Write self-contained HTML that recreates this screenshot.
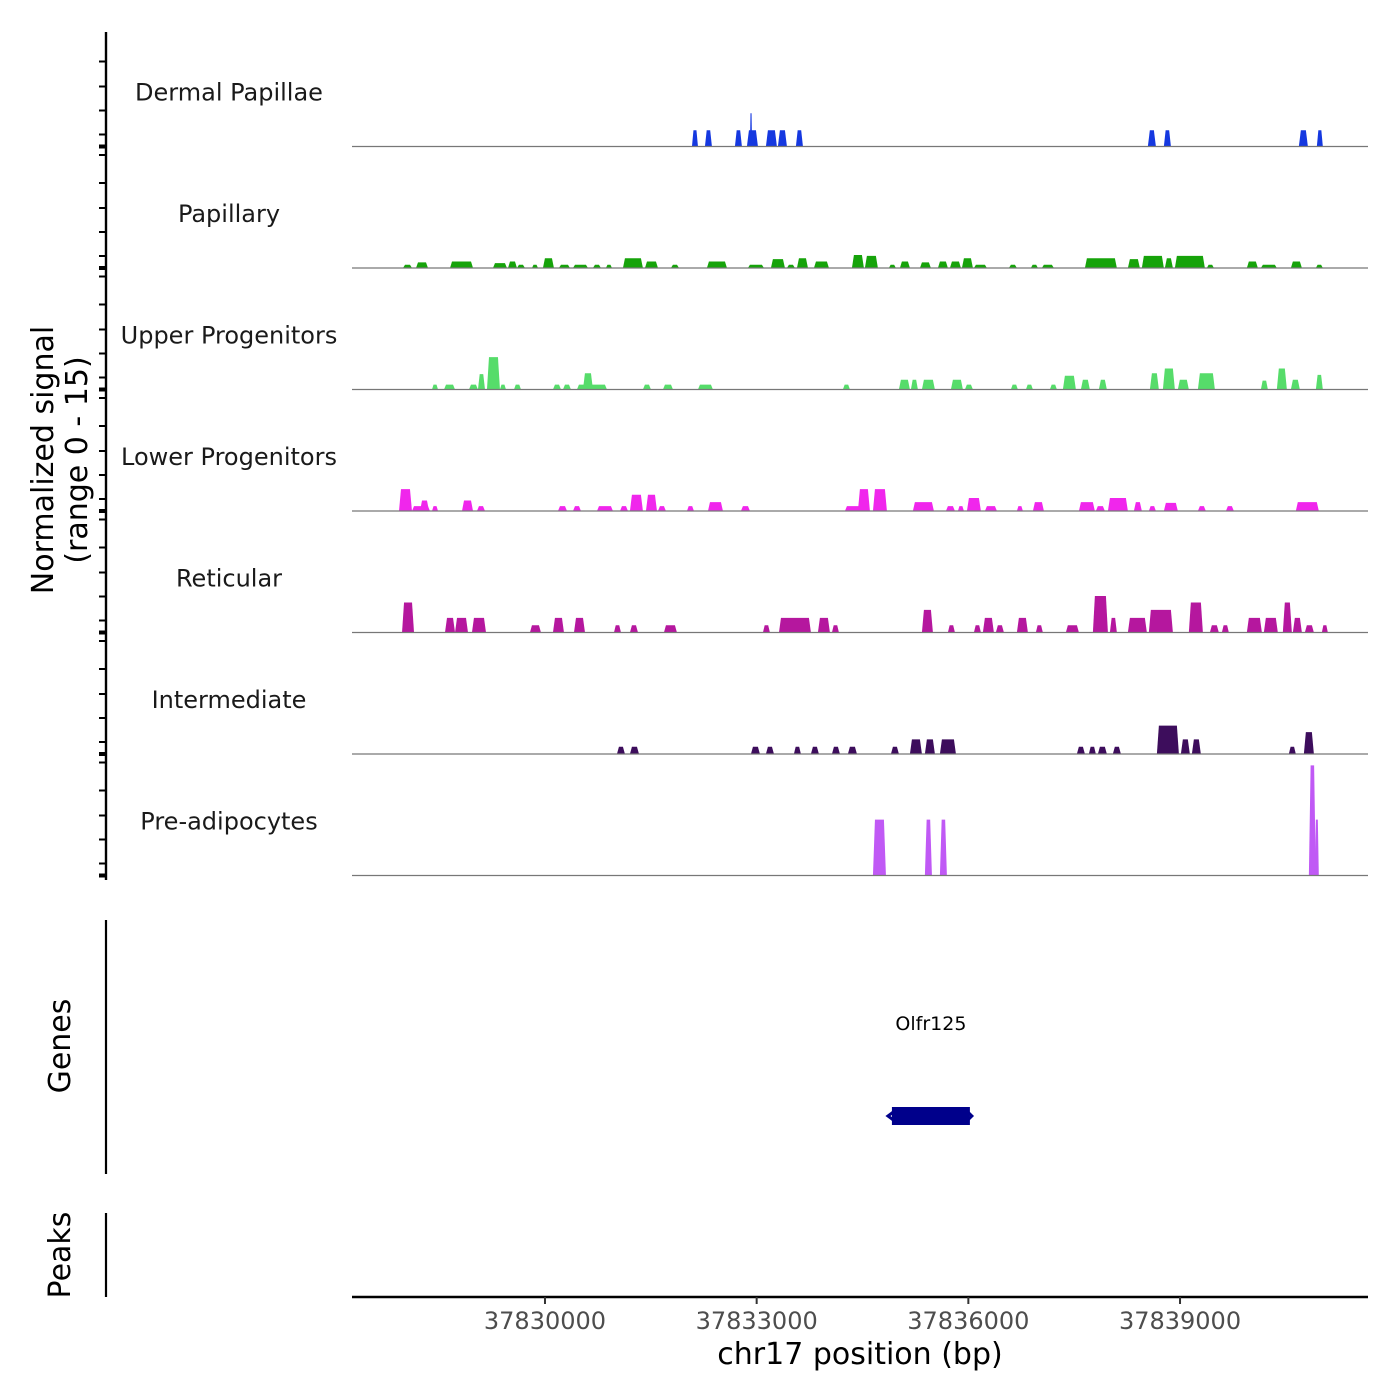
<!DOCTYPE html>
<html><head><meta charset="utf-8"><style>
html,body{margin:0;padding:0;background:#fff;}
svg{display:block;font-family:"DejaVu Sans","Liberation Sans",sans-serif;}
</style></head><body>
<svg id="chart" width="1400" height="1400" viewBox="0 0 1400 1400" xmlns="http://www.w3.org/2000/svg">
<g id="tracks"></g>
<g id="left-axis"></g>
<text x="0" y="0" transform="translate(53,460) rotate(-90)" text-anchor="middle" font-size="30" fill="#000"><tspan x="0" dy="0">Normalized signal</tspan><tspan x="0" dy="34">(range 0 - 15)</tspan></text>
<line x1="106" y1="920" x2="106" y2="1174" stroke="#000" stroke-width="2.2"/>
<text transform="translate(70,1046) rotate(-90)" text-anchor="middle" font-size="30" fill="#000">Genes</text>
<g id="genes"></g>
<line x1="106" y1="1213" x2="106" y2="1297" stroke="#000" stroke-width="2.2"/>
<text transform="translate(70,1255) rotate(-90)" text-anchor="middle" font-size="30" fill="#000">Peaks</text>
<g id="xaxis"></g>
<text x="860" y="1364" text-anchor="middle" font-size="30" fill="#000">chr17 position (bp)</text>
</svg>
<script>
const regionStart = 37827265;
const regionEnd = 37841664;
const trackNames = ["Dermal Papillae","Papillary","Upper Progenitors","Lower Progenitors","Reticular","Intermediate","Pre-adipocytes"];
const trackColors = ["#1538e0","#16a30a","#56dc6a","#f026ec","#b5179e","#3d0d5c","#c059f5"];
const xTicks = [37830000,37833000,37836000,37839000];
const xTickLabels = ["37830000","37833000","37836000","37839000"];
const signalMax = 15;
const dermalPapillae = [[37832083,37832168,2.0],[37832267,37832366,2.0],[37832692,37832791,2.0],[37832862,37833018,2.0],[37832905,37832935,4.1],[37833131,37833287,2.0],[37833301,37833429,2.0],[37833556,37833656,2.0],[37838544,37838658,2.0],[37838771,37838871,2.0],[37840684,37840812,2.0],[37840939,37841024,2.0]];
const papillary = [[37827988,37828115,0.4],[37828172,37828342,0.7],[37828654,37828980,0.8],[37829263,37829461,0.6],[37829476,37829603,0.8],[37829603,37829716,0.4],[37829816,37829901,0.4],[37829971,37830127,1.2],[37830198,37830354,0.4],[37830397,37830609,0.4],[37830680,37830793,0.4],[37830864,37830949,0.4],[37831105,37831388,1.2],[37831417,37831601,0.8],[37831785,37831899,0.4],[37832295,37832579,0.8],[37832876,37833103,0.4],[37833202,37833401,1.1],[37833429,37833542,0.4],[37833571,37833727,1.2],[37833812,37834024,0.8],[37834350,37834520,1.6],[37834534,37834718,1.5],[37834874,37834973,0.4],[37835030,37835172,0.8],[37835314,37835469,0.7],[37835569,37835710,0.8],[37835739,37835895,0.8],[37835909,37836065,1.2],[37836079,37836263,0.4],[37836575,37836688,0.4],[37836886,37836986,0.4],[37837042,37837212,0.4],[37837652,37838105,1.2],[37838261,37838431,1.1],[37838459,37838771,1.5],[37838785,37838899,1.2],[37838927,37839352,1.5],[37839380,37839480,0.4],[37839947,37840103,0.8],[37840146,37840372,0.4],[37840571,37840727,0.8],[37840925,37841024,0.4]];
const upperProgenitors = [[37828399,37828484,0.6],[37828569,37828725,0.6],[37828923,37829050,0.6],[37829050,37829150,1.9],[37829178,37829362,4.0],[37829362,37829447,0.6],[37829561,37829660,0.6],[37830113,37830227,0.6],[37830255,37830368,0.6],[37830453,37830878,0.6],[37830538,37830680,2.0],[37831388,37831502,0.6],[37831672,37831814,0.6],[37832168,37832380,0.6],[37834222,37834322,0.6],[37835016,37835172,1.2],[37835186,37835285,1.2],[37835342,37835526,1.2],[37835753,37835923,1.2],[37835951,37836065,0.6],[37836603,37836702,0.6],[37836816,37836915,0.6],[37837156,37837255,0.6],[37837340,37837524,1.7],[37837595,37837722,1.2],[37837850,37837963,1.2],[37838573,37838700,2.0],[37838757,37838927,2.6],[37838969,37839125,1.2],[37839253,37839494,2.0],[37840146,37840245,1.1],[37840372,37840514,2.6],[37840571,37840698,1.2],[37840925,37841024,1.8]];
const lowerProgenitors = [[37827931,37828115,2.7],[37828115,37828370,0.6],[37828229,37828356,1.3],[37828399,37828484,0.6],[37828824,37828980,1.3],[37829036,37829150,0.6],[37830184,37830312,0.6],[37830397,37830510,0.6],[37830737,37830963,0.6],[37831063,37831176,0.6],[37831204,37831388,2.0],[37831431,37831587,2.0],[37831601,37831714,0.6],[37832012,37832111,0.6],[37832310,37832522,1.1],[37832777,37832905,0.6],[37834251,37834605,0.6],[37834435,37834605,2.7],[37834648,37834846,2.7],[37835214,37835512,1.1],[37835682,37835810,0.6],[37835852,37835937,0.6],[37835980,37836178,1.6],[37836235,37836405,0.6],[37836688,37836773,0.6],[37836915,37837071,1.1],[37837567,37837793,1.1],[37837807,37837935,0.6],[37837978,37838261,1.6],[37838346,37838459,1.1],[37838558,37838658,0.6],[37838771,37838969,1.0],[37839253,37839366,0.6],[37839650,37839763,0.6],[37840641,37840967,1.1]];
const reticular = [[37827974,37828144,3.7],[37828583,37828725,1.8],[37828725,37828909,1.8],[37828965,37829164,1.8],[37829787,37829943,0.9],[37830113,37830269,1.8],[37830411,37830567,1.8],[37830978,37831077,0.9],[37831204,37831318,0.9],[37831686,37831870,0.9],[37833089,37833188,0.9],[37833316,37833769,1.8],[37833868,37834038,1.8],[37834067,37834166,0.9],[37835342,37835498,2.8],[37835710,37835810,0.9],[37836079,37836178,0.9],[37836206,37836362,1.8],[37836390,37836504,0.9],[37836688,37836844,1.8],[37836957,37837056,0.9],[37837382,37837567,0.9],[37837765,37837978,4.5],[37838006,37838105,1.8],[37838261,37838530,1.8],[37838558,37838899,2.8],[37839125,37839324,3.7],[37839423,37839550,0.9],[37839593,37839692,0.9],[37839947,37840160,1.8],[37840188,37840386,1.8],[37840457,37840585,3.7],[37840599,37840727,1.8],[37840769,37840897,0.9],[37841010,37841095,0.9]];
const intermediate = [[37831020,37831133,0.9],[37831204,37831332,0.9],[37832919,37833046,0.9],[37833131,37833245,0.9],[37833528,37833627,0.9],[37833769,37833882,0.9],[37834067,37834180,0.9],[37834293,37834421,0.9],[37834903,37835016,0.9],[37835172,37835342,1.8],[37835384,37835526,1.8],[37835597,37835824,1.8],[37837538,37837652,0.9],[37837708,37837807,0.9],[37837836,37837963,0.9],[37838048,37838162,0.9],[37838672,37838984,3.5],[37839012,37839139,1.8],[37839168,37839295,1.8],[37840542,37840641,0.9],[37840755,37840897,2.7]];
const preAdipocytes = [[37834648,37834832,6.9],[37835384,37835484,6.9],[37835597,37835696,6.9],[37840826,37840925,13.6],[37840911,37840967,6.9]];
const trackData = [dermalPapillae,papillary,upperProgenitors,lowerProgenitors,reticular,intermediate,preAdipocytes];
const geneName = "Olfr125";
const geneStart = 37834917;
const geneEnd = 37836022;

const NS = "http://www.w3.org/2000/svg";
const plotL = 352, plotR = 1368;
const trackTop = 25, trackH = 121.5;
function xScale(bp){ return plotL + (bp - regionStart) / (regionEnd - regionStart) * (plotR - plotL); }
function yScale(v, i){ const base = trackTop + trackH*(i+1); return base - v / signalMax * trackH; }
function mk(tag, attrs, parent){ const e = document.createElementNS(NS, tag); for (const k in attrs) e.setAttribute(k, attrs[k]); parent.appendChild(e); return e; }

const tracksG = document.getElementById('tracks');
trackNames.forEach((name, i) => {
  const g = mk('g', {}, tracksG);
  
  
  const base = yScale(0, i);
  const lbl = mk('text', {x: 229, y: base - 46, 'text-anchor':'middle', 'font-size': 24, fill:'#1a1a1a'}, g);
  lbl.textContent = name;
  
  
  trackData[i].forEach(p => {
    const x0 = xScale(p[0]), x1 = xScale(p[1]), yt = yScale(p[2], i);
    const s = Math.min(2, (x1 - x0) * 0.25);
    const poly = mk('polygon', {points: `${x0},${base} ${x0+s},${yt} ${x1-s},${yt} ${x1},${base}`, fill: trackColors[i]}, g);
    
    
  });
  const bl = mk('line', {x1: plotL, x2: plotR, y1: base, y2: base, stroke: '#777', 'stroke-width': 1.2}, g);
  
  
});

const la = document.getElementById('left-axis');
mk('line', {x1:106, x2:106, y1:32, y2:880, stroke:'#000', 'stroke-width':2.4}, la);
trackNames.forEach((n, i) => {
  const base = yScale(0, i);
  [base-113, base-85, base-60, base-36, base-12, base-1, base+1].forEach(y => {
    if (y < 34 || y > 879) return;
    const t = mk('line', {x1:99, x2:106, y1:y, y2:y, stroke:'#000', 'stroke-width':2}, la);
    
    
  });
});

const gg = document.getElementById('genes');
const gl = mk('text', {x: (xScale(geneStart)+xScale(geneEnd))/2, y: 1030, 'text-anchor':'middle', 'font-size':19, fill:'#000'}, gg);
gl.textContent = geneName;


const gr = mk('rect', {x: xScale(geneStart), y: 1107, width: xScale(geneEnd)-xScale(geneStart), height: 18, fill:'#00008b'}, gg);


const ga = mk('polyline', {points: `${xScale(geneStart)+4},1110 ${xScale(geneStart)-4},1116 ${xScale(geneStart)+4},1122`, fill:'none', stroke:'#00008b', 'stroke-width':3}, gg);


const ga2 = mk('polyline', {points: `${xScale(geneEnd)-2},1112 ${xScale(geneEnd)+2},1116 ${xScale(geneEnd)-2},1120`, fill:'none', stroke:'#00008b', 'stroke-width':3}, gg);



const xa = document.getElementById('xaxis');
mk('line', {x1: plotL, x2: plotR, y1: 1297, y2: 1297, stroke:'#000', 'stroke-width':2.4}, xa);
xTicks.forEach((t, k) => {
  const x = xScale(t);
  const tl = mk('line', {x1:x, x2:x, y1:1297, y2:1304, stroke:'#333', 'stroke-width':2}, xa);
  
  
  const tx = mk('text', {x:x, y:1329, 'text-anchor':'middle', 'font-size':24, fill:'#4d4d4d'}, xa);
  tx.textContent = xTickLabels[k];
  
  
});
</script>
</body></html>
